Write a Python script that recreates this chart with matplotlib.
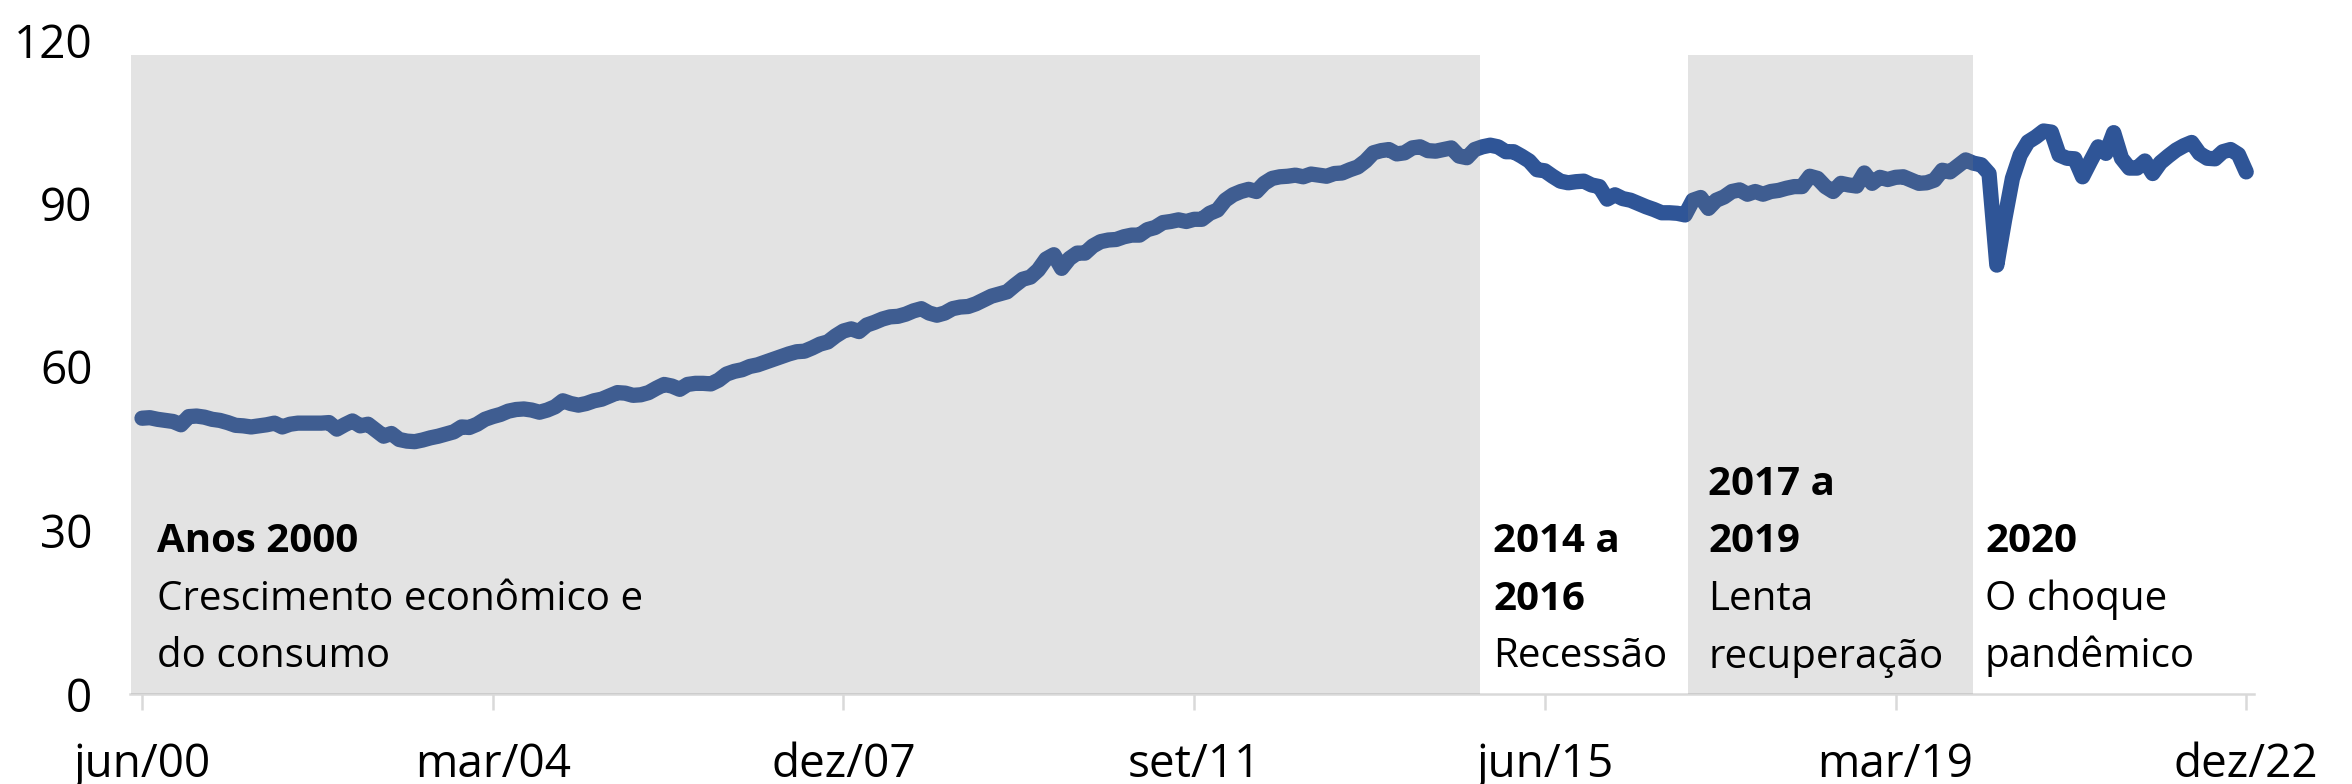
import numpy as np
import matplotlib
matplotlib.use("Agg")
import matplotlib.pyplot as plt

# ---- data (monthly index, jun/2000 .. dez/2022) ----
values = [
    # jun-dez 2000
    50.6, 50.7, 50.4, 50.2, 50.0, 49.4, 50.9,
    # 2001
    51.0, 50.8, 50.4, 50.2, 49.8, 49.3, 49.2, 49.0, 49.2, 49.4, 49.7, 49.0,
    # 2002
    49.5, 49.7, 49.7, 49.7, 49.7, 49.8, 48.6, 49.4, 50.1, 49.2, 49.5, 48.4,
    # 2003
    47.3, 47.8, 46.7, 46.4, 46.3, 46.6, 47.0, 47.3, 47.7, 48.1, 49.0, 48.9,
    # 2004
    49.5, 50.4, 50.9, 51.3, 51.9, 52.2, 52.3, 52.1, 51.7, 52.1, 52.7, 53.8,
    # 2005
    53.3, 53.0, 53.3, 53.8, 54.1, 54.7, 55.3, 55.2, 54.8, 54.9, 55.3, 56.1,
    # 2006
    56.8, 56.5, 55.9, 56.8, 57.0, 57.0, 56.9, 57.6, 58.7, 59.2, 59.5, 60.1,
    # 2007
    60.4, 60.9, 61.4, 61.9, 62.4, 62.8, 62.9, 63.5, 64.2, 64.6, 65.7, 66.6,
    # 2008
    67.0, 66.5, 67.7, 68.2, 68.8, 69.2, 69.3, 69.7, 70.3, 70.7, 69.9, 69.5,
    # 2009
    69.9, 70.7, 71.0, 71.1, 71.6, 72.3, 73.0, 73.4, 73.8, 75.0, 76.1, 76.5,
    # 2010
    77.8, 79.8, 80.6, 78.1, 79.9, 80.9, 80.9, 82.2, 83.0, 83.3, 83.4, 83.9,
    # 2011
    84.2, 84.2, 85.2, 85.6, 86.5, 86.7, 87.0, 86.7, 87.1, 87.1, 88.2, 88.8,
    # 2012
    90.6, 91.6, 92.2, 92.6, 92.2, 93.7, 94.6, 94.9, 95.0, 95.2, 94.9, 95.4,
    # 2013
    95.2, 95.0, 95.5, 95.6, 96.2, 96.7, 97.8, 99.3, 99.7, 99.9, 99.1, 99.3,
    # 2014
    100.2, 100.4, 99.7, 99.6, 99.9, 100.2, 98.7, 98.4, 99.9, 100.4, 100.7, 100.4,
    # 2015
    99.5, 99.5, 98.7, 97.8, 96.2, 96.0, 95.0, 94.1, 93.8, 94.0, 94.1, 93.4,
    # 2016
    93.1, 90.8, 91.6, 90.9, 90.6, 90.0, 89.4, 88.9, 88.3, 88.3, 88.2, 87.9,
    # 2017
    90.6, 91.1, 89.1, 90.6, 91.2, 92.2, 92.5, 91.7, 92.2, 91.7, 92.2, 92.4,
    # 2018
    92.8, 93.1, 93.1, 95.0, 94.6, 93.1, 92.2, 93.7, 93.4, 93.2, 95.6, 93.7,
    # 2019
    94.8, 94.4, 94.8, 94.9, 94.3, 93.7, 93.8, 94.3, 96.1, 95.8, 96.9, 98.0,
    # 2020
    97.4, 97.1, 95.5, 78.7, 87.0, 94.6, 98.9, 101.3, 102.2, 103.3, 103.1, 98.9,
    # 2021
    98.3, 98.2, 94.9, 97.7, 100.4, 99.2, 103.0, 98.3, 96.5, 96.5, 97.8, 95.5,
    # 2022
    97.5, 98.7, 99.8, 100.6, 101.2, 99.2, 98.3, 98.2, 99.5, 99.9, 99.0, 95.8,
]
tick_labels = ["jun/00", "mar/04", "dez/07", "set/11", "jun/15", "mar/19", "dez/22"]
tick_step = 45  # months between labels
y_ticks = [0, 30, 60, 90, 120]

# shaded periods (in month-index units) and their height
shade_start = [-1.4, 198.4]
shade_end = [171.7, 234.9]
shade_height = 117.2

# annotation blocks: (text lines, bold flags)
ann_texts = [
    ["Anos 2000", "Crescimento econômico e", "do consumo"],
    ["2014 a", "2016", "Recessão"],
    ["2017 a", "2019", "Lenta", "recuperação"],
    ["2020", "O choque", "pandêmico"],
]
ann_bold = [
    [True, False, False],
    [True, True, False],
    [True, True, False, False],
    [True, False, False],
]

# ---- figure ----
W, H = 2352, 784
plt.rcParams['font.family'] = ['Open Sans', 'DejaVu Sans']
fig = plt.figure(figsize=(W / 100, H / 100), dpi=100)
ax = fig.add_axes([130 / W, 1 - 694 / H, (2254 - 130) / W, (694 - 40) / H])

x = np.arange(len(values))
ax.plot(x, values, color='#2F5597', lw=11, solid_joinstyle='round',
        solid_capstyle='round', zorder=2)

for a, b in zip(shade_start, shade_end):
    ax.axvspan(a, b, ymin=0, ymax=shade_height / 120, color=(0.482, 0.482, 0.482),
               alpha=0.21, lw=0, zorder=3)

ax.set_xlim(-1.54, 271.0)
ax.set_ylim(0, 120)
ax.set_xticks(np.arange(len(tick_labels)) * tick_step)
ax.set_xticklabels(tick_labels)
ax.set_yticks(y_ticks)
ax.set_yticklabels([str(v) for v in y_ticks])

for s in ['top', 'right', 'left']:
    ax.spines[s].set_visible(False)
ax.spines['bottom'].set_color('#D9D9D9')
ax.spines['bottom'].set_linewidth(1.8)
ax.set_facecolor('none')

ax.tick_params(axis='x', length=11.5, width=1.8, color='#D9D9D9', pad=23,
               labelsize=33, labelcolor='black')
ax.tick_params(axis='y', length=0, pad=27, labelsize=33, labelcolor='black')

# annotations (pixel positions of the first baseline)
ann_x = [157, 1493, 1708, 1985]
ann_y0 = [552, 552, 495, 552]
line_gap = 57.5
for lines, bolds, px, py in zip(ann_texts, ann_bold, ann_x, ann_y0):
    for i, (t, b) in enumerate(zip(lines, bolds)):
        fig.text(px / W, 1 - (py + i * line_gap) / H, t, fontsize=29,
                 fontweight='bold' if b else 'normal', ha='left', va='baseline',
                 color='black')

fig.savefig("out.png", dpi=100)
